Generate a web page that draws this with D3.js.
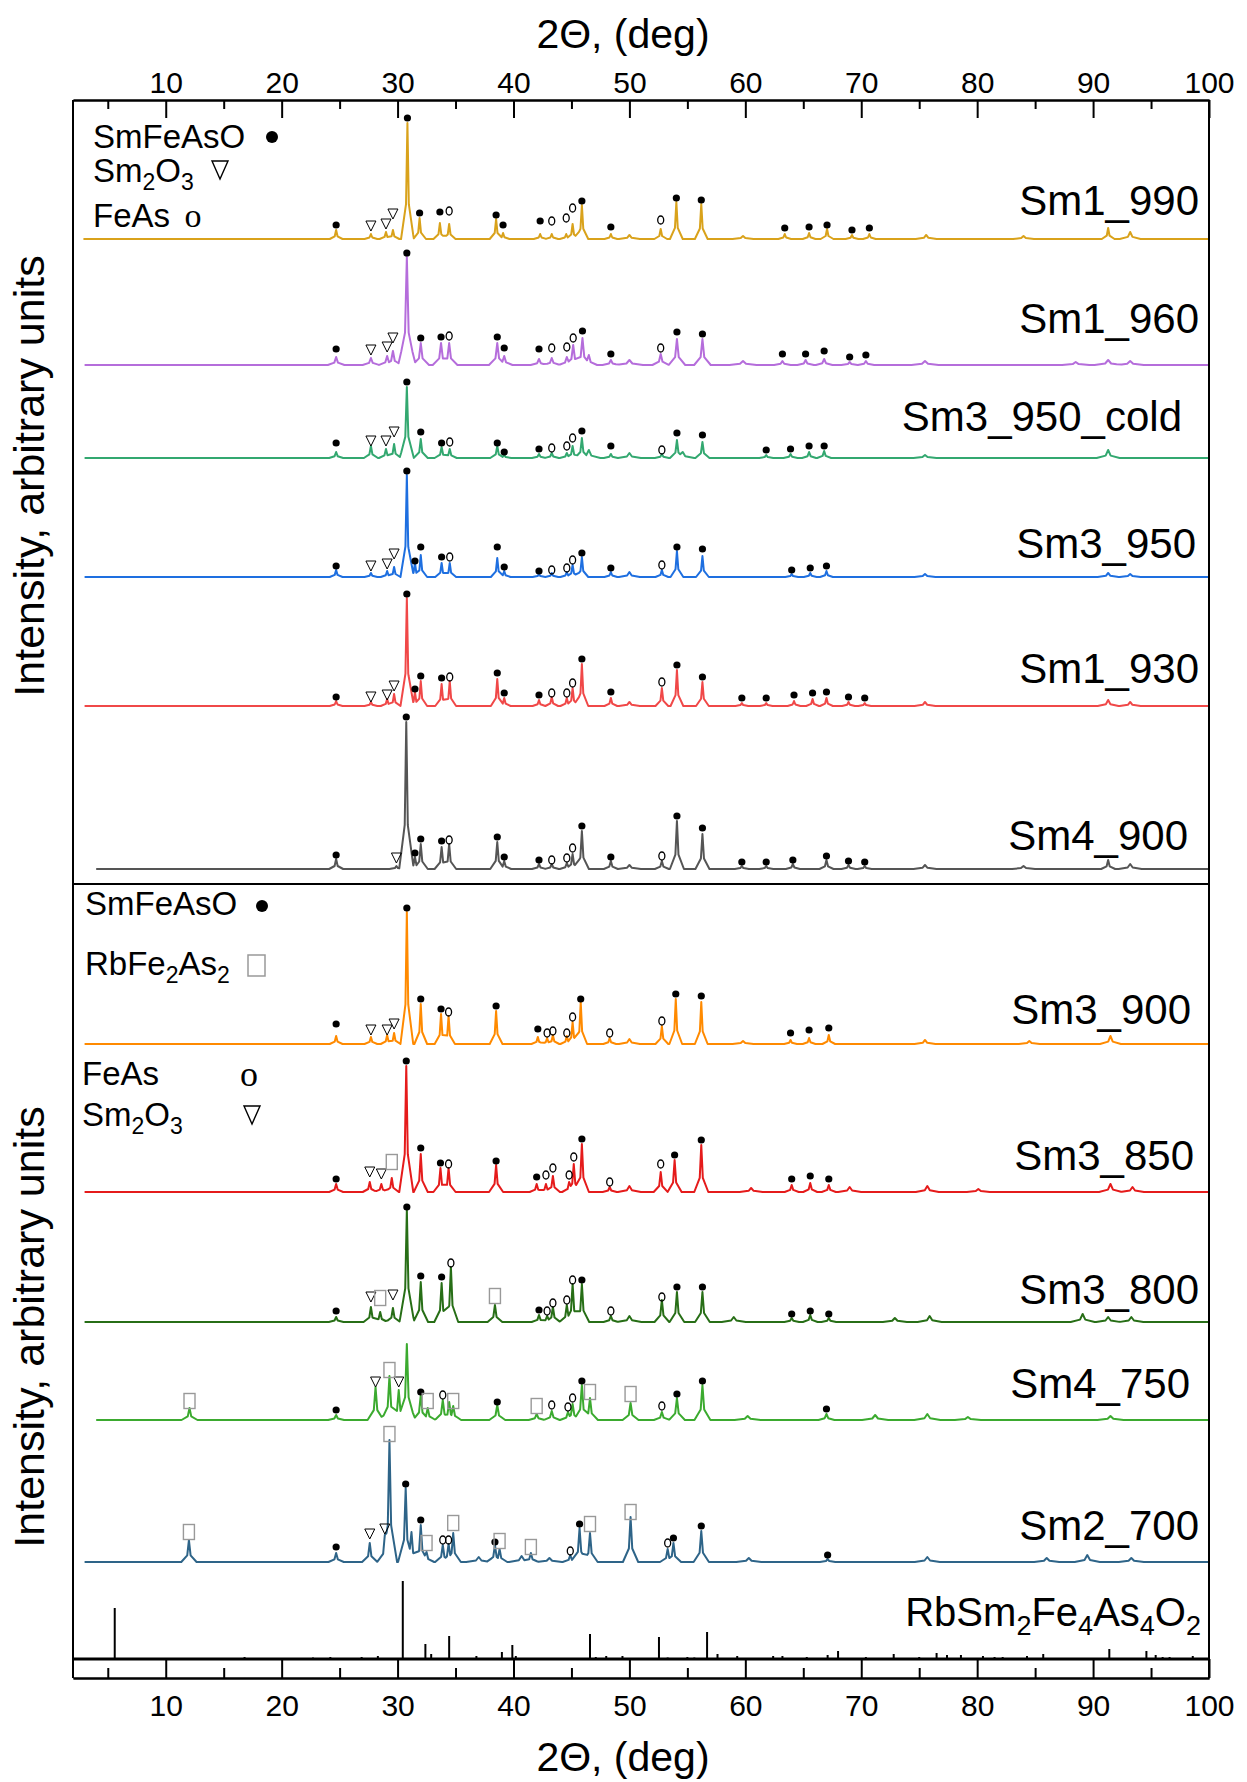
<!DOCTYPE html>
<html>
<head>
<meta charset="utf-8">
<script src="https://cdn.jsdelivr.net/npm/d3@7"></script>
<style>
  body { margin: 0; background: #fff; }
  text { font-family: "Liberation Sans", Arial, sans-serif; }
</style>
</head>
<body>
<div id="wrapper"></div>
<script>
// 1. Data
const xTicks = [10, 20, 30, 40, 50, 60, 70, 80, 90, 100]
const xMinorTicks = [5, 15, 25, 35, 45, 55, 65, 75, 85, 95]

const upperNames = ['Sm1_990', 'Sm1_960', 'Sm3_950_cold', 'Sm3_950', 'Sm1_930', 'Sm4_900']
const upperOffsets = [645, 519, 426, 307, 178, 15]     // stacking offset, a.u.
const upperStart = [2.9, 3.0, 3.0, 3.0, 3.0, 4.0]      // first measured angle

const lowerNames = ['Sm3_900', 'Sm3_850', 'Sm3_800', 'Sm4_750', 'Sm2_700']
const lowerOffsets = [615, 467, 337, 239, 97]
const lowerStart = [3.0, 3.0, 3.0, 4.0, 3.0]

// peaks: [2theta, intensity, phase, intensity of the phase mark]
// S = SmFeAsO, F = FeAs, T = Sm2O3, R = RbFe2As2
const peaks990 = [[24.7,9,'S',14],[27.7,5,'T',13],[29.0,7,'T',15],[29.6,9,'T',25],[30.85,116,'S',121],
  [31.9,21,'S',26],[33.65,16,'S',27],[34.45,15,'F',28],[38.5,20,'S',24],[39.1,6,'S',14],[42.3,5,'S',18],
  [43.3,5,'F',18],[44.55,5,'F',21],[45.1,15,'F',31],[45.9,34,'S',38],[48.4,5,'S',12],[50.0,4],
  [52.7,10,'F',19],[54.05,37,'S',41],[56.2,35,'S',39],[59.8,3],[63.4,5,'S',11],[65.5,6,'S',12],
  [67.05,10,'S',14],[69.2,4,'S',9],[70.7,5,'S',11],[75.6,4],[84.0,3],[91.3,11],[93.2,7]]
const peaks960 = [[24.7,8,'S',16],[27.7,7,'T',15],[29.1,9,'T',18],[29.6,14,'T',27],[30.8,108,'S',112],
  [32.0,22,'S',27],[33.75,22,'S',28],[34.45,22,'F',29],[38.6,22,'S',28],[39.2,9,'S',17],[42.2,6,'S',16],
  [43.3,7,'F',17],[44.6,8,'F',18],[45.15,20,'F',27],[45.95,27,'S',34],[46.5,10],[48.4,5,'S',11],[50.0,5],
  [52.7,11,'F',17],[54.1,26,'S',33],[56.3,26,'S',31],[59.8,4],[63.2,4,'S',11],[65.2,5,'S',11],
  [66.8,6,'S',14],[69.0,3,'S',8],[70.4,4,'S',10],[75.5,4],[88.5,3],[91.3,5],[93.2,4]]
const peaks950cold = [[24.7,6,'S',15],[27.7,12,'T',17],[29.0,9,'T',17],[29.7,14,'T',26],[30.8,71,'S',76],
  [32.0,19,'S',26],[33.8,11,'S',15],[34.5,9,'F',16],[38.6,12,'S',15],[39.2,3,'S',6],[42.2,4,'S',9],
  [43.3,5,'F',10],[44.6,5,'F',12],[45.1,12,'F',20],[45.9,20,'S',27],[46.5,8],[48.4,4,'S',12],[50.0,5],
  [52.8,4,'F',8],[54.1,18,'S',25],[54.6,6],[56.3,16,'S',23],[61.8,3,'S',8],[63.9,4,'S',9],[65.5,6,'S',12],
  [66.8,7,'S',12],[75.5,3],[91.3,8]]
const peaks950 = [[24.7,7,'S',11],[27.7,4,'T',11],[29.1,6,'T',13],[29.7,10,'T',23],[30.8,102,'S',106],
  [31.5,14,'S',16],[32.0,22,'S',30],[33.8,14,'S',20],[34.5,14,'F',20],[38.6,19,'S',30],[39.2,6,'S',10],
  [42.2,3,'S',6],[43.3,4,'F',7],[44.6,5,'F',9],[45.1,12,'F',17],[45.9,20,'S',24],[48.4,5,'S',9],[50.0,5],
  [52.8,7,'F',12],[54.1,26,'S',30],[56.3,21,'S',28],[64.0,3,'S',7],[65.6,4,'S',9],[67.0,6,'S',11],
  [75.5,3],[91.3,4],[93.2,3]]
const peaks930 = [[24.7,5,'S',9],[27.7,4,'T',9],[29.1,7,'T',11],[29.7,12,'T',20],[30.8,108,'S',112],
  [31.5,14,'S',17],[32.0,25,'S',30],[33.8,22,'S',28],[34.5,25,'F',29],[38.6,27,'S',33],[39.2,8,'S',13],
  [42.2,6,'S',11],[43.3,9,'F',13],[44.6,8,'F',13],[45.1,18,'F',23],[45.9,42,'S',47],[48.4,8,'S',14],
  [50.0,4],[52.8,18,'F',24],[54.1,36,'S',41],[56.3,24,'S',29],[59.7,3,'S',8],[61.8,3,'S',8],
  [64.2,5,'S',11],[65.8,7,'S',13],[67.0,8,'S',14],[68.9,4,'S',9],[70.3,3,'S',8],[75.5,4],[91.3,6],[93.2,4]]
const peaks900a = [[24.7,10,'S',14],[29.9,3,'T',11],[30.75,147,'S',152],[31.5,12,'S',16],[32.0,25,'S',30],
  [33.8,22,'S',28],[34.45,25,'F',29],[38.6,27,'S',32],[39.2,8,'S',12],[42.2,5,'S',9],[43.3,5,'F',9],
  [44.6,6,'F',11],[45.1,15,'F',21],[45.9,38,'S',43],[48.4,8,'S',12],[50.0,4],[52.8,8,'F',13],
  [54.1,48,'S',53],[56.3,35,'S',41],[59.7,3,'S',7],[61.8,3,'S',7],[64.1,5,'S',9],[67.0,9,'S',13],
  [68.9,4,'S',8],[70.3,3,'S',7],[75.5,4],[84.0,3],[91.3,9],[93.2,5]]

const peaks900b = [[24.7,8,'S',20],[27.7,7,'T',14],[29.1,9,'T',14],[29.7,11,'T',20],[30.8,132,'S',136],
  [32.0,40,'S',45],[33.75,30,'S',35],[34.4,28,'F',32],[38.5,33,'S',38],[42.1,7,'S',15],[42.9,6,'F',11],
  [43.4,9,'F',13],[44.6,8,'F',11],[45.1,22,'F',27],[45.8,42,'S',45],[48.3,6,'F',11],[50.0,5],
  [52.8,18,'F',23],[54.0,45,'S',50],[56.2,42,'S',48],[59.8,3],[63.9,4,'S',11],[65.5,6,'S',14],
  [67.2,9,'S',16],[75.5,4],[84.5,3],[91.5,8]]
const peaks850 = [[24.7,8,'S',13],[27.6,10,'T',20],[28.6,8,'T',18],[29.5,14,'R',30],[30.75,126,'S',131],
  [32.0,38,'S',44],[33.7,24,'S',29],[34.4,24,'F',28],[38.5,27,'S',31],[42.0,8,'S',15],[42.8,8,'F',17],
  [43.4,16,'F',24],[44.8,10,'F',17],[45.2,28,'F',35],[45.9,48,'S',53],[48.3,5,'F',10],[50.0,6],
  [52.7,20,'F',28],[53.9,32,'S',37],[56.2,47,'S',52],[60.5,4],[64.0,7,'S',13],[65.6,9,'S',16],
  [67.2,7,'S',13],[69.0,5],[75.7,6],[80.1,3],[91.5,8],[93.4,5]]
const peaks800 = [[24.7,5,'S',11],[27.7,15,'T',25],[28.5,10,'R',24],[29.6,14,'T',27],[30.8,112,'S',115],
  [32.0,40,'S',46],[33.8,39,'S',45],[34.6,55,'F',59],[38.4,17,'R',26],[42.2,7,'S',12],[42.9,6,'F',11],
  [43.4,15,'F',19],[44.6,17,'F',22],[45.1,38,'F',42],[45.9,38,'S',42],[48.4,6,'F',11],[50.0,6],
  [52.8,22,'F',25],[54.1,30,'S',35],[56.3,30,'S',35],[59.0,5],[64.0,4,'S',8],[65.6,7,'S',11],
  [67.2,4,'S',8],[72.9,4],[75.9,6],[89.1,8],[91.3,5],[93.3,5]]
const peaks750 = [[12.05,12,'R',19],[24.7,5,'S',10],[28.1,33,'T',38],[29.3,44,'R',50],[30.1,30,'T',38],
  [30.8,76],[32.0,25,'S',28],[32.6,12,'R',19],[33.9,20,'F',25],[34.45,18],[34.8,14,'R',19],
  [38.6,15,'S',18],[42.0,6,'R',14],[43.3,9,'F',15],[44.7,8,'F',13],[45.1,16,'F',22],[45.9,35,'S',39],
  [46.6,22,'R',28],[50.1,17,'R',26],[52.8,8,'F',14],[54.1,22,'S',26],[56.3,35,'S',39],[60.2,4],
  [67.0,6,'S',11],[71.2,5],[75.7,6],[79.2,3],[91.5,4]]
const peaks700 = [[12.0,22,'R',30],[24.7,9,'S',15],[27.6,19,'T',28],[28.9,27,'T',33],[29.3,122,'R',128],
  [30.7,74,'S',78],[31.2,30],[32.0,37,'S',42],[32.5,10,'R',19],[33.9,17,'F',22],[34.4,18,'F',22],
  [34.8,29,'R',39],[37.0,5],[38.4,17,'S',20],[38.8,13,'R',21],[40.7,6],[41.5,9,'R',15],[43.1,4],
  [44.9,7,'F',11],[45.7,34,'S',38],[46.6,29,'R',38],[50.1,45,'R',50],[53.3,13,'F',19],[53.8,19,'S',24],
  [56.2,31,'S',36],[60.3,4],[67.1,3,'S',7],[75.7,5],[86.0,4],[89.5,7],[93.3,4]]

const upperPeaks = [peaks990, peaks960, peaks950cold, peaks950, peaks930, peaks900a]
const lowerPeaks = [peaks900b, peaks850, peaks800, peaks750, peaks700]

// calculated pattern of RbSm2Fe4As4O2
const stickPos = [5.6, 11.3, 16.8, 22.7, 24.2, 26.9, 28.3, 30.45, 32.4, 32.9, 34.45, 36.8, 39.0, 39.9,
  40.2, 46.6, 47.1, 48.0, 49.4, 52.55, 53.3, 55.0, 55.6, 56.7, 57.6, 59.3, 62.4, 63.2, 65.3, 67.1, 68.0,
  70.4, 72.8, 75.0, 76.5, 77.4, 78.6, 80.5, 81.5, 82.2, 84.3, 85.7, 90.6, 91.4, 94.6, 95.4, 96.0, 96.6, 98.6]
const stickInt = [51, 1, 2, 1.5, 2, 2, 3, 78, 15, 5, 23, 3, 7, 14,
  3, 25, 2, 3, 3, 22, 1.5, 2, 1.5, 27, 5, 3, 3, 3, 2, 4, 8,
  2, 5, 2, 6, 4, 4, 3, 2, 2, 3, 5, 1, 10, 8, 4, 2, 2, 3]

// 2. Dimensions and styles
const dimensions = {
  width: 1247,
  height: 1782,
  left: 73,
  right: 1209,
  top: 100,
  split: 884,
  base: 1659,
  bottom: 1678
}
const upperColors = ['#D9A21B', '#B56DDB', '#33A870', '#1E6FE0', '#F04848', '#555555']
const lowerColors = ['#FF8A00', '#E51B1B', '#276E16', '#3BAA2F', '#2E6488']
const upperWidthK = [1, 1.3, 1.1, 1, 1, 1.1]
const lowerWidthK = [1, 1.1, 1.15, 1.25, 1.2]
const upperLabelPos = [[1199, 215], [1199, 333], [1182, 431], [1196, 558], [1199, 683], [1188, 850]]
const lowerLabelPos = [[1191, 1024], [1194, 1170], [1199, 1304], [1190, 1398], [1199, 1540]]

// 3. Draw canvas
const svg = d3.select('#wrapper')
  .append('svg')
    .attr('width', dimensions.width)
    .attr('height', dimensions.height)

// Scales
const xScale = d3.scaleLinear()
  .domain([2, 100])
  .range([dimensions.left, dimensions.right])
const yUpper = d3.scaleLinear()
  .domain([0, dimensions.split - dimensions.top])
  .range([dimensions.split, dimensions.top])
const yLower = d3.scaleLinear()
  .domain([0, dimensions.base - dimensions.split])
  .range([dimensions.base, dimensions.split])

// a peak is drawn as a sharp top with wider feet
function halfWidth(p, k) { return (!p[2] && p[1] <= 8 ? 0.9 : 0.55) * k }
function peakShape(v, p, k) {
  const w = halfWidth(p, k), a = Math.abs(v - p[0])
  if (a >= w) return 0
  const w1 = w * 0.22
  if (a <= w1) return p[1] * (1 - 0.7 * a / w1)
  return p[1] * 0.3 * (w - a) / (w - w1)
}
function buildTrace(peaks, start, k) {
  let xs = [start, 100]
  peaks.forEach(p => {
    const w = halfWidth(p, k)
    xs.push(p[0] - w, p[0] - w * 0.22, p[0], p[0] + w * 0.22, p[0] + w)
  })
  xs = xs.filter(v => v >= start && v <= 100).sort(d3.ascending)
  return xs.map(v => [v, d3.max(peaks, p => peakShape(v, p, k))])
}

function trianglePath(cx, cy, w, h) {
  return `M${cx - w / 2},${cy - h / 2}L${cx + w / 2},${cy - h / 2}L${cx},${cy + h / 2}Z`
}

// 4. Draw data
function drawPanel(names, peaksList, offsets, starts, colors, widthK, yScale, labelPos) {
  const g = svg.append('g')
  names.forEach((name, i) => {
    const trace = buildTrace(peaksList[i], starts[i], widthK[i])
    const line = d3.line()
      .x(d => xScale(d[0]))
      .y(d => yScale(offsets[i] + d[1]))
    g.append('path')
      .datum(trace)
      .attr('d', line)
      .attr('fill', 'none')
      .attr('stroke', colors[i])
      .attr('stroke-width', 2)
      .attr('stroke-linejoin', 'round')

    const marks = peaksList[i].filter(p => p[2])
    const mg = g.append('g')
    mg.selectAll('circle')
      .data(marks.filter(p => p[2] === 'S'))
      .join('circle')
        .attr('cx', p => xScale(p[0]))
        .attr('cy', p => yScale(offsets[i] + p[3]))
        .attr('r', 3.6)
        .attr('fill', '#000')
    mg.selectAll('ellipse')
      .data(marks.filter(p => p[2] === 'F'))
      .join('ellipse')
        .attr('cx', p => xScale(p[0]))
        .attr('cy', p => yScale(offsets[i] + p[3]))
        .attr('rx', 3)
        .attr('ry', 4)
        .attr('fill', 'none')
        .attr('stroke', '#000')
        .attr('stroke-width', 1.3)
    mg.selectAll('path.tri')
      .data(marks.filter(p => p[2] === 'T'))
      .join('path')
        .attr('class', 'tri')
        .attr('d', p => trianglePath(xScale(p[0]), yScale(offsets[i] + p[3]), 10, 10))
        .attr('fill', 'none')
        .attr('stroke', '#000')
        .attr('stroke-width', 1)
    mg.selectAll('rect')
      .data(marks.filter(p => p[2] === 'R'))
      .join('rect')
        .attr('x', p => xScale(p[0]) - 5.5)
        .attr('y', p => yScale(offsets[i] + p[3]) - 7.5)
        .attr('width', 11)
        .attr('height', 15)
        .attr('fill', 'none')
        .attr('stroke', '#999')
        .attr('stroke-width', 1.4)

    g.append('text')
      .attr('x', labelPos[i][0])
      .attr('y', labelPos[i][1])
      .attr('text-anchor', 'end')
      .style('font-size', '42px')
      .text(name)
  })
}

drawPanel(upperNames, upperPeaks, upperOffsets, upperStart, upperColors, upperWidthK, yUpper, upperLabelPos)
drawPanel(lowerNames, lowerPeaks, lowerOffsets, lowerStart, lowerColors, lowerWidthK, yLower, lowerLabelPos)

// reference sticks
svg.append('g')
  .selectAll('line')
  .data(stickPos)
  .join('line')
    .attr('x1', d => xScale(d))
    .attr('x2', d => xScale(d))
    .attr('y1', yLower(0))
    .attr('y2', (d, i) => yLower(stickInt[i]))
    .attr('stroke', '#000')
    .attr('stroke-width', 2)

const refLabel = svg.append('text')
  .attr('x', 1201)
  .attr('y', 1626)
  .attr('text-anchor', 'end')
  .style('font-size', '40px')
refLabel.append('tspan').text('RbSm')
refLabel.append('tspan').text('2').style('font-size', '27px').attr('dy', 9)
refLabel.append('tspan').text('Fe').attr('dy', -9)
refLabel.append('tspan').text('4').style('font-size', '27px').attr('dy', 9)
refLabel.append('tspan').text('As').attr('dy', -9)
refLabel.append('tspan').text('4').style('font-size', '27px').attr('dy', 9)
refLabel.append('tspan').text('O').attr('dy', -9)
refLabel.append('tspan').text('2').style('font-size', '27px').attr('dy', 9)

// 5. Draw peripherals
const frame = svg.append('g').attr('stroke', '#000').attr('stroke-width', 2)
frame.append('line').attr('x1', dimensions.left).attr('x2', dimensions.left)
  .attr('y1', dimensions.top).attr('y2', dimensions.bottom)
frame.append('line').attr('x1', dimensions.right).attr('x2', dimensions.right)
  .attr('y1', dimensions.top).attr('y2', dimensions.bottom)
frame.append('line').attr('x1', dimensions.left).attr('x2', dimensions.right)
  .attr('y1', dimensions.split).attr('y2', dimensions.split)
frame.append('line').attr('x1', dimensions.left).attr('x2', dimensions.right)
  .attr('y1', dimensions.base).attr('y2', dimensions.base)
  .attr('stroke-width', 3)

function styleAxis(g) {
  g.selectAll('.domain').attr('stroke-width', 2)
  g.selectAll('.tick line').attr('stroke-width', 2)
  g.selectAll('text')
    .attr('fill', '#000')
    .style('font-size', '30px')
    .style('font-family', '"Liberation Sans", Arial, sans-serif')
}

svg.append('g')
  .attr('transform', `translate(0,${dimensions.top})`)
  .call(d3.axisTop(xScale).tickValues(xTicks).tickSizeInner(-18).tickSizeOuter(0).tickPadding(7))
  .call(styleAxis)
svg.append('g')
  .attr('transform', `translate(0,${dimensions.top})`)
  .call(d3.axisTop(xScale).tickValues(xMinorTicks).tickSizeInner(-9).tickSizeOuter(0).tickFormat(''))
  .call(styleAxis)

svg.append('g')
  .attr('transform', `translate(0,${dimensions.bottom})`)
  .call(d3.axisBottom(xScale).tickValues(xTicks).tickSizeInner(-(dimensions.bottom - dimensions.base)).tickSizeOuter(0).tickPadding(17))
  .call(styleAxis)
svg.append('g')
  .attr('transform', `translate(0,${dimensions.bottom})`)
  .call(d3.axisBottom(xScale).tickValues(xMinorTicks).tickSizeInner(-10).tickSizeOuter(0).tickFormat(''))
  .call(styleAxis)

svg.append('text')
  .attr('x', 623).attr('y', 48)
  .attr('text-anchor', 'middle')
  .style('font-size', '41px')
  .text('2Θ, (deg)')
svg.append('text')
  .attr('x', 623).attr('y', 1771)
  .attr('text-anchor', 'middle')
  .style('font-size', '41px')
  .text('2Θ, (deg)')

const yLabelCenters = [476, 1327]
yLabelCenters.forEach(c => {
  svg.append('text')
    .attr('transform', `translate(44,${c}) rotate(-90)`)
    .attr('text-anchor', 'middle')
    .style('font-size', '43px')
    .text('Intensity, arbitrary units')
})

// legends
function subText(x, y, parts) {
  const t = svg.append('text').attr('x', x).attr('y', y).style('font-size', '33px')
  parts.forEach(p => {
    if (p.sub) t.append('tspan').text(p.s).style('font-size', '23px').attr('dy', 8)
    else t.append('tspan').text(p.s).attr('dy', p.after ? -8 : 0)
  })
  return t
}
function serifO(cx, y, size) {
  svg.append('text')
    .attr('x', cx).attr('y', y)
    .attr('text-anchor', 'middle')
    .style('font-family', '"Liberation Serif", "Times New Roman", serif')
    .style('font-size', size + 'px')
    .text('o')
}

// upper legend
subText(93, 148, [{ s: 'SmFeAsO' }])
svg.append('circle').attr('cx', 272).attr('cy', 137).attr('r', 6)
subText(93, 182, [{ s: 'Sm' }, { s: '2', sub: true }, { s: 'O', after: true }, { s: '3', sub: true }])
svg.append('path').attr('d', trianglePath(220, 170, 16, 18))
  .attr('fill', 'none').attr('stroke', '#000').attr('stroke-width', 1.4)
subText(93, 227, [{ s: 'FeAs' }])
serifO(193, 227, 34)

// lower legend
subText(85, 915, [{ s: 'SmFeAsO' }])
svg.append('circle').attr('cx', 262).attr('cy', 906).attr('r', 6)
subText(85, 975, [{ s: 'RbFe' }, { s: '2', sub: true }, { s: 'As', after: true }, { s: '2', sub: true }])
svg.append('rect').attr('x', 248).attr('y', 955).attr('width', 17).attr('height', 21)
  .attr('fill', 'none').attr('stroke', '#999').attr('stroke-width', 1.5)
subText(82, 1085, [{ s: 'FeAs' }])
serifO(249, 1086, 36)
subText(82, 1126, [{ s: 'Sm' }, { s: '2', sub: true }, { s: 'O', after: true }, { s: '3', sub: true }])
svg.append('path').attr('d', trianglePath(252, 1115, 16, 18))
  .attr('fill', 'none').attr('stroke', '#000').attr('stroke-width', 1.4)
</script>
</body>
</html>
